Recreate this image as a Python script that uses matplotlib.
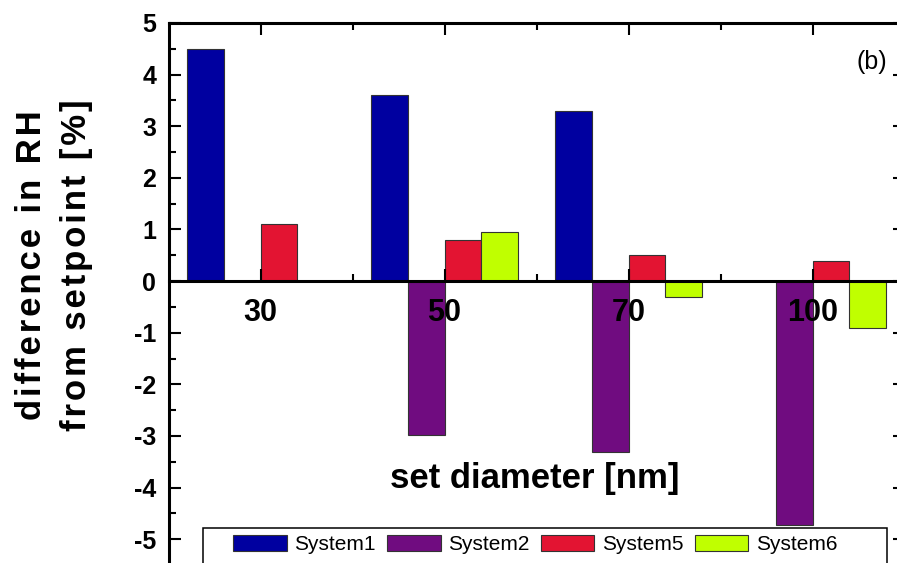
import numpy as np
import matplotlib
matplotlib.use("Agg")
import matplotlib.pyplot as plt
from matplotlib.patches import Rectangle
from matplotlib.ticker import MultipleLocator, FixedLocator

plt.rcParams['font.family'] = ['Liberation Sans', 'DejaVu Sans']

# data
diameters = ['30', '50', '70', '100']
system1 = [4.50, 3.61, 3.29, np.nan]
system2 = [np.nan, -2.99, -3.31, -4.72]
system5 = [1.10, 0.79, 0.50, 0.39]
system6 = [np.nan, 0.96, -0.30, -0.90]

series_names = ['System1', 'System2', 'System5', 'System6']
series_colors = ['#0000a0', '#700c80', '#e31432', '#c0ff00']


def spaced(s):
    # reference label uses wide letter spacing
    return '\u200a'.join(s)


W, H = 897, 563
fig = plt.figure(figsize=(W / 100, H / 100), dpi=100)
# axes run slightly past the right/bottom edge, like the cropped original
ax = fig.add_axes([168.5 / W, -2 / H, 736 / W, 542 / H])

x = np.arange(len(diameters))
width = 0.2
offsets = [-0.3, -0.1, 0.1, 0.3]
for vals, name, color, off in zip([system1, system2, system5, system6],
                                  series_names, series_colors, offsets):
    ax.bar(x + off, vals, width, color=color, edgecolor='#333333',
           linewidth=0.8, label=name)

ax.set_xlim(-0.5, 3.5)
ax.set_ylim(-5.5, 5)

ax.spines['bottom'].set_position(('data', 0))
for sp in ax.spines.values():
    sp.set_linewidth(2.2)

ax.set_xticks(x)
ax.set_xticklabels(diameters, fontsize=22, fontweight='bold')
ax.xaxis.set_minor_locator(FixedLocator([0.5, 1.5, 2.5]))
ax.yaxis.set_major_locator(MultipleLocator(1))
ax.yaxis.set_minor_locator(MultipleLocator(0.5))
ax.set_yticks(np.arange(-5, 6, 1))
ax.set_yticklabels([str(v) for v in range(-5, 6)], fontsize=18, fontweight='bold')

ax.tick_params(which='both', direction='in', top=True, right=True, width=1.5)
ax.tick_params(which='major', length=8.6)
ax.tick_params(which='minor', length=5)
ax.tick_params(axis='x', which='major', pad=12)
ax.tick_params(axis='y', which='major', pad=9)

ax.set_xlabel('set diameter [nm]', fontsize=25, fontweight='bold')
ax.xaxis.set_label_coords(0.498, 0.19)
ax.set_ylabel(spaced('difference in RH') + '\n' + spaced('from setpoint [%]'),
              fontsize=25, fontweight='bold', linespacing=1.45)
ax.yaxis.set_label_coords(-0.103, 0.553)

ax.text(0.976, 0.928, '(b)', transform=ax.transAxes, ha='right', va='center',
        fontsize=18)

ax.legend(loc='center left', bbox_to_anchor=(0.0876, 0.037), ncol=4,
          frameon=False, fontsize=15, handlelength=2.57, handleheight=0.76,
          handletextpad=0.38, columnspacing=0.53, borderpad=0, borderaxespad=0)
ax.add_patch(Rectangle((0.0469, -0.018), 0.929, 0.086, transform=ax.transAxes,
                       fill=False, edgecolor='black', linewidth=1.1,
                       clip_on=False, zorder=3))

fig.savefig('out.png', dpi=100)
